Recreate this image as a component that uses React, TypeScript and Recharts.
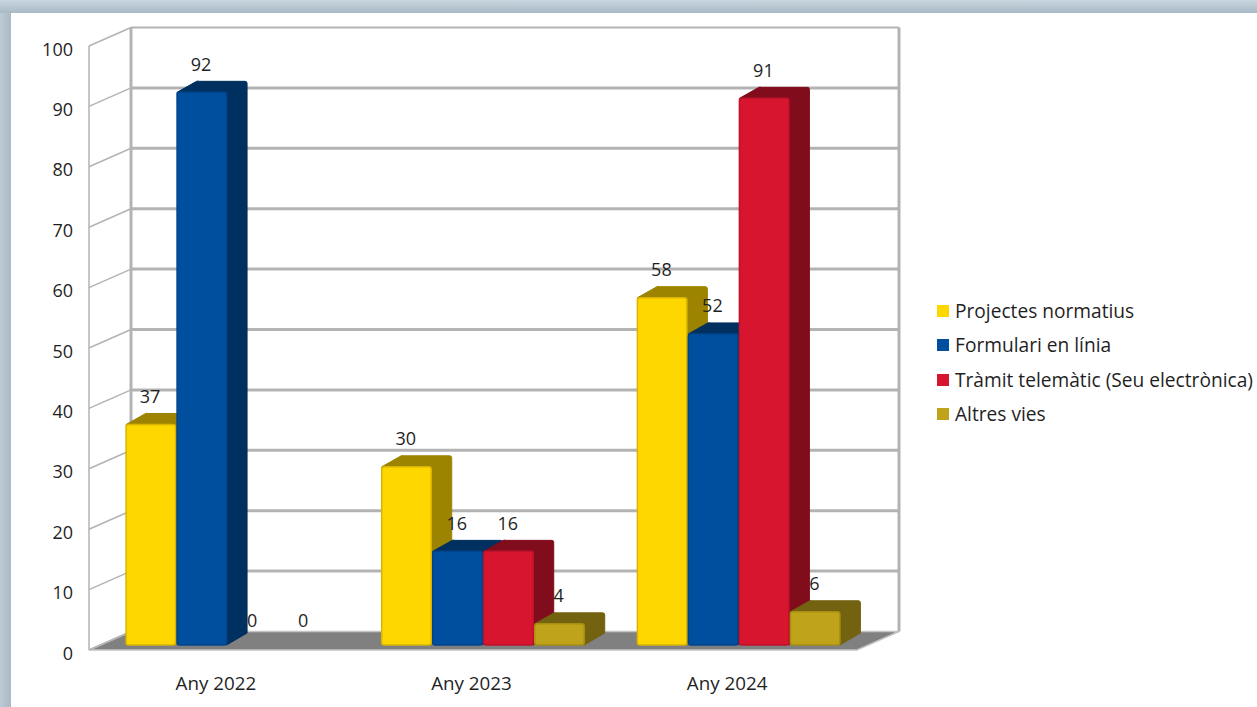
import React from "react";
import { BarChart, Bar, XAxis, YAxis, CartesianGrid, Legend, LabelList } from "recharts";

const categories = ["Any 2022", "Any 2023", "Any 2024"];
const projectes = [37, 30, 58];
const formulari = [92, 16, 52];
const tramit = [0, 16, 91];
const altres = [0, 4, 6];
const yTicks = [0, 10, 20, 30, 40, 50, 60, 70, 80, 90, 100];
const seriesNames = ["Projectes normatius", "Formulari en línia", "Tràmit telemàtic (Seu electrònica)", "Altres vies"];

const rows = categories.map((name, i) => ({
  name,
  projectes: projectes[i],
  formulari: formulari[i],
  tramit: tramit[i],
  altres: altres[i],
}));

const FONT = "'Open Sans', 'Noto Sans', sans-serif";
const TEXT = "#1f1f1f";
const GRID = "#b3b3b3";
const WALL_DX = 43;
const WALL_DY = 18.5;
const BAR_DX = 12;
const BAR_TOP_DY = 2;
const BAR_BASE_DY = 5;
const SIDE_DX = 20.5;
const SIDE_DY = 11;
const PLOT_TOP = 46;
const PLOT_H = 604;

function makeShape(front: string, side: string, edge: string) {
  return function BarShape(p: any) {
    const { x, y, width, height } = p;
    if (!height || height <= 0) return null;
    const l = x + BAR_DX + 0.5;
    const r = x + BAR_DX + width - 1;
    const b = y + height - BAR_BASE_DY;
    const t = y - BAR_TOP_DY;
    const sidePath = `M${l},${t} L${l + SIDE_DX - 1},${t - SIDE_DY} Q${l + SIDE_DX},${t - SIDE_DY - 0.5} ${l + SIDE_DX + 2},${t - SIDE_DY}
      L${r + SIDE_DX - 2},${t - SIDE_DY} Q${r + SIDE_DX},${t - SIDE_DY} ${r + SIDE_DX},${t - SIDE_DY + 2}
      L${r + SIDE_DX},${b - SIDE_DY - 1} L${r},${b} Z`;
    return (
      <g>
        <path d={sidePath} fill={side} stroke={side} strokeWidth={1} strokeLinejoin="round" />
        <rect x={l} y={t} width={r - l} height={b - t} rx={2.5} ry={2.5} fill={front} stroke={edge} strokeWidth={1.5} />
      </g>
    );
  };
}

function gridLine(p: any) {
  const { x1, x2, y1, index } = p;
  const key = `g${index}-${y1}`;
  const back = y1 - WALL_DY;
  const isBottom = Math.abs(y1 - (PLOT_TOP + PLOT_H)) < 0.5;
  const isTop = Math.abs(y1 - PLOT_TOP) < 0.5;
  const fl = x1 + 1;
  const fr = x2 + 2;
  const bl = x1 + WALL_DX;
  const br = x2 + WALL_DX + 1;
  return (
    <g key={key}>
      {isBottom && (
        <polygon
          points={`${fl},${y1} ${bl},${back} ${br},${back} ${fr},${y1}`}
          fill="#808080"
          stroke="#c4c4c4"
          strokeWidth={1.5}
        />
      )}
      {isTop && (
        <g>
          <line x1={fl} y1={y1} x2={fl} y2={y1 + PLOT_H} stroke={GRID} strokeWidth={1.5} />
          <line x1={bl} y1={back} x2={bl} y2={back + PLOT_H} stroke={GRID} strokeWidth={3} />
          <line x1={br} y1={back} x2={br} y2={back + PLOT_H} stroke={GRID} strokeWidth={3} />
        </g>
      )}
      <line x1={fl} y1={y1} x2={bl} y2={back} stroke={GRID} strokeWidth={1.5} />
      {!isBottom && <line x1={bl} y1={back} x2={br} y2={back} stroke={GRID} strokeWidth={isTop ? 2 : 3} />}
    </g>
  );
}

function valueLabel(p: any) {
  const { x, y, width, value, index } = p;
  return (
    <text
      key={index}
      x={x + BAR_DX + width / 2 - 1}
      y={y - BAR_TOP_DY - 28.5}
      textAnchor="middle"
      dominantBaseline="central"
      fontFamily={FONT}
      fontSize={18}
      fill={TEXT}
    >
      {value}
    </text>
  );
}

function legendContent(p: any) {
  const items = p.payload || [];
  return (
    <div style={{ fontFamily: FONT, fontSize: 19.15, color: TEXT }}>
      {items.map((it: any) => (
        <div key={it.value} style={{ display: "flex", alignItems: "center", height: 34.3, whiteSpace: "nowrap" }}>
          <span style={{ width: 12, height: 12, background: it.color, marginRight: 6, flex: "none" }} />
          <span>{it.value}</span>
        </div>
      ))}
    </div>
  );
}

function yTick(p: any) {
  const { x, y, payload } = p;
  return (
    <text x={x} y={y + 2.5} textAnchor="end" dominantBaseline="central" fontFamily={FONT} fontSize={18} fill={TEXT}>
      {payload.value}
    </text>
  );
}

const series = [
  { key: "projectes", name: seriesNames[0], fill: "#FFD700", side: "#9C8300", edge: "#D9B400" },
  { key: "formulari", name: seriesNames[1], fill: "#004F9F", side: "#00305F", edge: "#00458C" },
  { key: "tramit", name: seriesNames[2], fill: "#D7152F", side: "#800C1C", edge: "#C0122A" },
  { key: "altres", name: seriesNames[3], fill: "#BFA31B", side: "#736210", edge: "#A88F10" },
];

export default function App() {
  return (
    <div
      style={{
        position: "absolute",
        left: 0,
        top: 0,
        width: 1257,
        height: 707,
        overflow: "hidden",
        background: "linear-gradient(90deg, #bccad3 0px, #a9bac6 11px)",
      }}
    >
      <div style={{ position: "absolute", left: 0, top: 0, width: 1257, height: 13, background: "linear-gradient(180deg, #c8d6de 0px, #a9bac6 13px)" }} />
      <div style={{ position: "absolute", left: 11, top: 13, width: 1246, height: 694, background: "#fff" }} />
      <div style={{ position: "absolute", left: 0, top: 0 }}>
        <BarChart
          width={1257}
          height={707}
          data={rows}
          barCategoryGap="10%"
          barGap={0}
          margin={{ top: PLOT_TOP, right: 82, bottom: 27, left: 18 }}
          style={{ fontFamily: FONT }}
        >
          <CartesianGrid vertical={false} horizontal={gridLine as any} />
          <XAxis
            dataKey="name"
            axisLine={false}
            tickLine={false}
            tickSize={0}
            tickMargin={27}
            tick={{ fontSize: 18.8, fill: TEXT, fontFamily: FONT }}
          />
          <YAxis
            width={70}
            domain={[0, 100]}
            ticks={yTicks}
            interval={0}
            axisLine={false}
            tickLine={false}
            tickSize={0}
            tickMargin={15}
            tick={yTick}
          />
          <Legend
            layout="vertical"
            align="right"
            verticalAlign="top"
            itemSorter={null}
            wrapperStyle={{ left: 937, top: 294, width: 320 }}
            content={legendContent}
          />
          {series.map((s) => (
            <Bar
              key={s.key}
              dataKey={s.key}
              name={s.name}
              fill={s.fill}
              isAnimationActive={false}
              shape={makeShape(s.fill, s.side, s.edge)}
            >
              <LabelList dataKey={s.key} content={valueLabel} />
            </Bar>
          ))}
        </BarChart>
      </div>
    </div>
  );
}
